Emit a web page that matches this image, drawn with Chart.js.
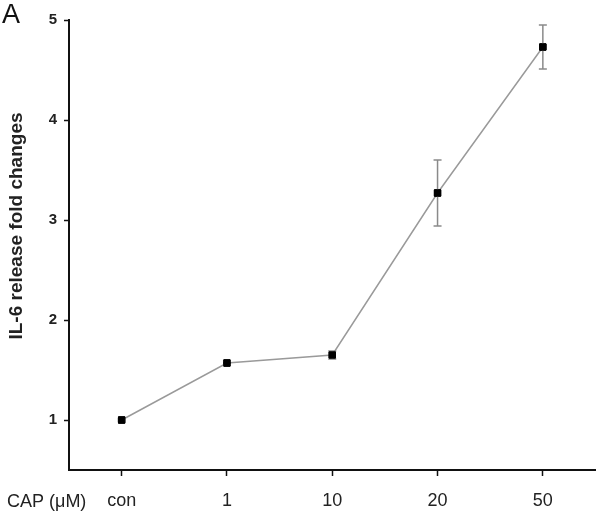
<!DOCTYPE html>
<html>
<head>
<meta charset="utf-8">
<script src="https://cdn.jsdelivr.net/npm/chart.js@4"></script>
<style>
  body { margin: 0; background: #fff; }
</style>
</head>
<body>
<canvas id="graf" width="601" height="514"></canvas>
<script>
const categorias = ["con", "1", "10", "20", "50"];
const valores = [1.00, 1.57, 1.65, 3.27, 4.73];
const erros = [0.01, 0.02, 0.04, 0.33, 0.22];
const yTicks = [1, 2, 3, 4, 5];

// barras de erro desenhadas com as escalas do gráfico
const barrasErro = {
  id: "barrasErro",
  afterDatasetsDraw(chart) {
    const ctx = chart.ctx;
    const x = chart.scales.x;
    const y = chart.scales.y;
    ctx.save();
    ctx.strokeStyle = "#8a8a8a";
    ctx.lineWidth = 1.5;
    valores.forEach((v, i) => {
      const px = x.getPixelForValue(i);
      const top = y.getPixelForValue(v + erros[i]);
      const bot = y.getPixelForValue(v - erros[i]);
      ctx.beginPath();
      ctx.moveTo(px, top); ctx.lineTo(px, bot);
      ctx.moveTo(px - 4, top); ctx.lineTo(px + 4, top);
      ctx.moveTo(px - 4, bot); ctx.lineTo(px + 4, bot);
      ctx.stroke();
    });
    ctx.restore();
    // redesenha os pontos por cima
    chart.getDatasetMeta(0).data.forEach(p => p.draw(ctx, chart.chartArea));
  },
  afterDraw(chart) {
    const ctx = chart.ctx;
    ctx.save();
    ctx.fillStyle = "#111";
    ctx.font = "27px Arial";
    ctx.textBaseline = "alphabetic";
    ctx.fillText("A", 2, 23);
    ctx.font = "18px Arial";
    ctx.fillStyle = "#222";
    ctx.fillText("CAP (\u03bcM)", 7, 507);
    ctx.translate(22, 226);
    ctx.rotate(-Math.PI / 2);
    ctx.font = "bold 19px Arial";
    ctx.textAlign = "center";
    ctx.textBaseline = "alphabetic";
    ctx.fillText("IL-6 release fold changes", 0, 0);
    ctx.restore();
  }
};

new Chart(document.getElementById("graf"), {
  type: "line",
  data: {
    labels: categorias,
    datasets: [
      {
        data: valores,
        borderColor: "#9a9a9a",
        borderWidth: 1.5,
        pointStyle: "rect",
        pointRadius: 4.5,
        pointBackgroundColor: "#000",
        pointBorderColor: "#000",
        pointBorderWidth: 1,
        tension: 0,
      },
    ],
  },
  options: {
    responsive: false,
    animation: false,
    layout: { padding: { left: 0, right: 4, top: 20, bottom: 0 } },
    plugins: {
      legend: { display: false },
      tooltip: { enabled: false },
    },
    scales: {
      x: {
        offset: true,
        grid: {
          offset: false,
          drawOnChartArea: false,
          tickLength: 6,
          tickColor: "#111",
          tickWidth: 1.5,
        },
        border: { color: "#111", width: 2 },
        ticks: {
          color: "#222",
          padding: 14,
          font: { family: "Arial", size: 18 },
        },
        afterFit: (s) => { s.height = 44; },
      },
      y: {
        min: 0.5,
        max: 5,
        afterBuildTicks: (s) => { s.ticks = yTicks.map(v => ({ value: v })); },
        grid: {
          drawOnChartArea: false,
          tickLength: 5,
          tickColor: "#111",
          tickWidth: 1.5,
        },
        border: { color: "#111", width: 2 },
        ticks: {
          color: "#222",
          padding: 7,
          font: { family: "Arial", size: 15, weight: "bold" },
        },
        afterFit: (s) => { s.width = 69; },
      },
    },
  },
  plugins: [barrasErro],
});
</script>
</body>
</html>
